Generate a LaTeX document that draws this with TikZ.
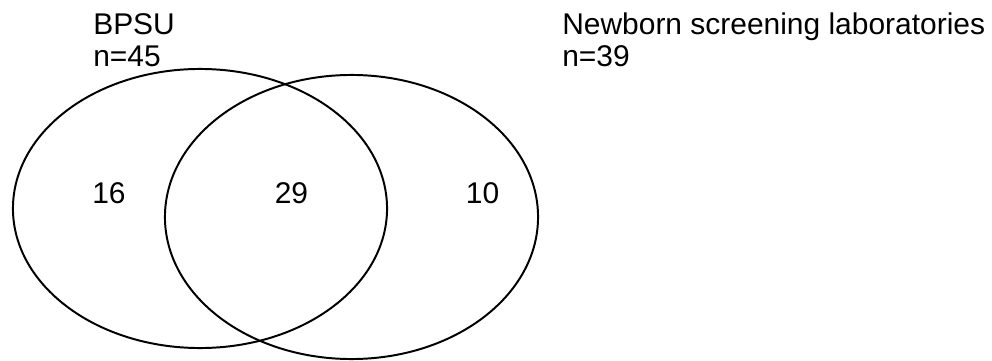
\documentclass[tikz,border=0pt]{standalone}
\usepackage{fontspec}
\setmainfont{Liberation Sans}
\tikzset{
  setline/.style={draw=black,line width=1.4pt},
  lbl/.style={inner sep=0pt,anchor=base west,font=\fontsize{21.3}{24}\selectfont},
  cnt/.style={inner sep=0pt,anchor=base,font=\fontsize{21.3}{24}\selectfont}
}
\begin{document}
\begin{tikzpicture}[x=0.025cm,y=-0.025cm]
            \useasboundingbox (0,0) rectangle (992,361);
            % sets
            \draw[setline] (200,208.5) ellipse [x radius=4.675cm, y radius=3.4875cm];
            \draw[setline] (351.5,217) ellipse [x radius=4.6625cm, y radius=3.55cm];

            % set labels
            \node[lbl] (bpsu) at (93,35) {BPSU};
            \node[lbl] (bpsun) at (93,67) {n=45};
            \node[lbl] (nsl) at (562,35) {Newborn screening laboratories};
            \node[lbl] (nsln) at (562,67) {n=39};

            % counts
            \node[cnt] (only1) at (109,203) {16};
            \node[cnt] (both) at (291.5,203) {29};
            \node[cnt] (only2) at (482.5,203) {10};
        \end{tikzpicture}
\end{document}
